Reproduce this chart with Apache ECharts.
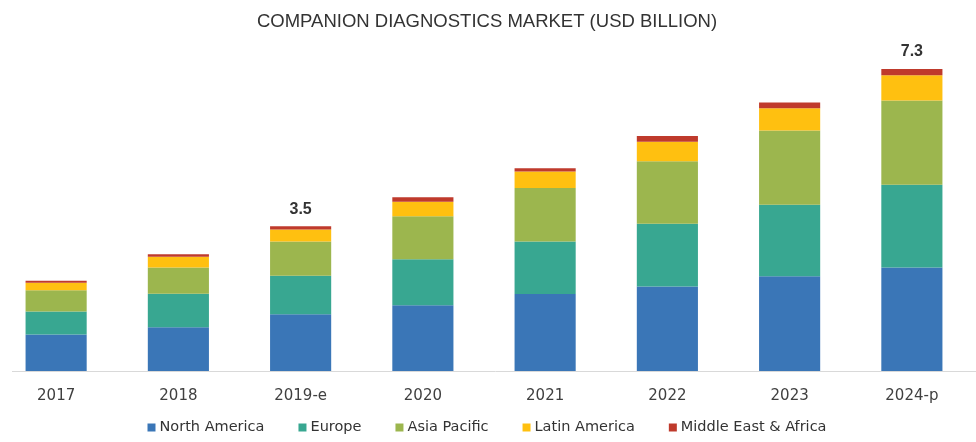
<!DOCTYPE html>
<html>
<head>
<meta charset="utf-8">
<script src="https://cdn.jsdelivr.net/npm/echarts@6/dist/echarts.min.js"></script>
<style>
  html, body { margin: 0; padding: 0; background: #fff; overflow: hidden; }
  body { width: 976px; height: 442px; position: relative; }
  #chart { position: absolute; left: -5px; top: 0; width: 984px; height: 442px; }
</style>
</head>
<body>
<div id="chart"></div>
<script>
// Companion diagnostics market by region, USD billion
const years = ['2017', '2018', '2019-e', '2020', '2021', '2022', '2023', '2024-p'];
const northAmerica = [0.88, 1.06, 1.37, 1.59, 1.86, 2.04, 2.29, 2.50];
const europe       = [0.56, 0.81, 0.93, 1.11, 1.27, 1.52, 1.73, 2.00];
const asiaPacific  = [0.51, 0.63, 0.83, 1.04, 1.29, 1.51, 1.79, 2.04];
const latinAmerica = [0.18, 0.26, 0.29, 0.35, 0.40, 0.47, 0.54, 0.61];
const middleEastAfrica = [0.05, 0.06, 0.08, 0.11, 0.08, 0.14, 0.14, 0.15];
// Totals printed above selected bars (blank where no label is shown)
const totalLabels = ['', '', '3.5', '', '', '', '', '7.3'];

const regionNames = ['North America', 'Europe', 'Asia Pacific', 'Latin America', 'Middle East & Africa'];
const regionData = [northAmerica, europe, asiaPacific, latinAmerica, middleEastAfrica];
const regionColors = ['#3A76B7', '#38A791', '#9CB64E', '#FFC010', '#BF3A2C'];

const chart = echarts.init(document.getElementById('chart'));

const series = regionNames.map((name, i) => {
  const s = {
    name: name,
    type: 'bar',
    stack: 'total',
    barWidth: '50%',
    data: regionData[i],
    itemStyle: { color: regionColors[i] },
    emphasis: { disabled: true }
  };
  if (i === regionNames.length - 1) {
    s.label = {
      show: true,
      position: 'top',
      distance: 9,
      color: '#333',
      fontFamily: 'Liberation Sans',
      fontSize: 16,
      fontWeight: 'bold',
      formatter: p => totalLabels[p.dataIndex]
    };
  }
  return s;
});

chart.setOption({
  animation: false,
  title: {
    text: 'COMPANION DIAGNOSTICS MARKET (USD BILLION)',
    left: 'center',
    top: 7,
    textStyle: {
      color: '#333',
      fontFamily: 'Liberation Sans',
      fontSize: 18.5,
      fontWeight: 'normal'
    }
  },
  legend: {
    bottom: 2,
    left: 'center',
    icon: 'rect',
    itemWidth: 8,
    itemHeight: 8,
    itemGap: 34,
    textStyle: {
      color: '#333',
      fontFamily: 'DejaVu Sans',
      fontSize: 14.5,
      padding: [0, 0, 0, -1]
    },
    data: regionNames
  },
  grid: { left: 0, right: 6, top: 40, bottom: 71 },
  xAxis: {
    type: 'category',
    data: years,
    axisLine: { show: false },
    axisTick: { show: false },
    axisLabel: {
      color: '#404040',
      fontFamily: 'DejaVu Sans',
      fontSize: 15,
      margin: 18
    }
  },
  yAxis: {
    type: 'value',
    min: 0,
    max: 8,
    show: false,
    splitLine: { show: false }
  },
  // Baseline under the bars
  graphic: [{
    type: 'line',
    shape: { x1: 17, y1: 371.5, x2: 984, y2: 371.5 },
    style: { stroke: '#d9d9d9', lineWidth: 1 },
    silent: true
  }],
  series: series
});
</script>
</body>
</html>
